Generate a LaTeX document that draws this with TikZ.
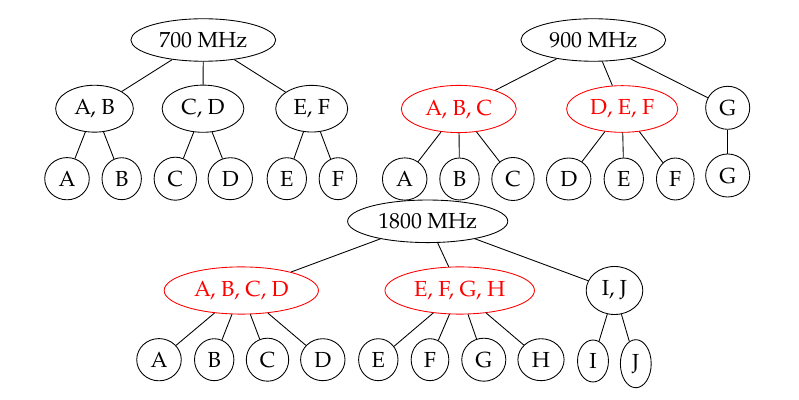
\documentclass[tikz,border=0pt]{standalone}
\usepackage{fontspec}
\setmainfont{texgyrepagella-regular.otf}[BoldFont=texgyrepagella-bold.otf,ItalicFont=texgyrepagella-italic.otf]
\usepackage{tikz}
\usetikzlibrary{shapes.geometric}
\usetikzlibrary{positioning}
\begin{document}
\begin{tikzpicture}[x=0.4587pt,y=-0.4587pt,font=\fontsize{10}{12}\selectfont,
  band/.style={draw,shape=ellipse},
  merged/.style={draw,shape=ellipse,color=red}]
\useasboundingbox (0,0) rectangle (799,400);
% 700 MHz
\path (203.3,40) node(0_0) [band] {700 MHz};
\path (94.5,108.7) node(1_0) [band] {A, B};
\path (203,108.7) node(2_0) [band] {C, D};
\path (311.7,108.7) node(3_0) [band] {E, F};
\path (67,178.7) node(4_0) [band] {A};
\path (121.7,178.7) node(5_0) [band] {B};
\path (175.3,178.7) node(6_0) [band] {C};
\path (230.3,178.7) node(7_0) [band] {D};
\path (286.8,178.7) node(8_0) [band] {E};
\path (338,178.7) node(9_0) [band] {F};
\draw (0_0) -- (1_0);
\draw (0_0) -- (2_0);
\draw (0_0) -- (3_0);
\draw (1_0) -- (4_0);
\draw (1_0) -- (5_0);
\draw (2_0) -- (6_0);
\draw (2_0) -- (7_0);
\draw (3_0) -- (8_0);
\draw (3_0) -- (9_0);
% 900 MHz
\path (593.3,40) node(0_1) [band] {900 MHz};
\path (458.8,109) node(1_1) [merged] {A, B, C};
\path (622.2,109) node(2_1) [merged] {D, E, F};
\path (727.7,107.8) node(3_1) [band] {G};
\path (404.7,179) node(4_1) [band] {A};
\path (459.5,179) node(5_1) [band] {B};
\path (513,179) node(6_1) [band] {C};
\path (568.7,179) node(7_1) [band] {D};
\path (623.8,179) node(8_1) [band] {E};
\path (675.3,179) node(9_1) [band] {F};
\path (727.7,175.5) node(10_1) [band] {G};
\draw (0_1) -- (1_1);
\draw (0_1) -- (2_1);
\draw (0_1) -- (3_1);
\draw (1_1) -- (4_1);
\draw (1_1) -- (5_1);
\draw (1_1) -- (6_1);
\draw (2_1) -- (7_1);
\draw (2_1) -- (8_1);
\draw (2_1) -- (9_1);
\draw (3_1) -- (10_1);
% 1800 MHz
\path (427.7,221.3) node(0_2) [band] {1800 MHz};
\path (241.3,290.5) node(1_2) [merged] {A, B, C, D};
\path (459.7,290.5) node(2_2) [merged] {E, F, G, H};
\path (614.5,290.5) node(3_2) [band] {I, J};
\path (159,359.7) node(4_2) [band] {A};
\path (214.2,359.7) node(5_2) [band] {B};
\path (267.5,359.7) node(6_2) [band] {C};
\path (322.8,359.7) node(7_2) [band] {D};
\path (378.3,359.7) node(8_2) [band] {E};
\path (430,359.7) node(9_2) [band] {F};
\path (483.8,359.7) node(10_2) [band] {G};
\path (541,359.7) node(11_2) [band] {H};
\path (593,361) node(12_2) [band] {I};
\path (635.8,363.7) node(13_2) [band] {J};
\draw (0_2) -- (1_2);
\draw (0_2) -- (2_2);
\draw (0_2) -- (3_2);
\draw (1_2) -- (4_2);
\draw (1_2) -- (5_2);
\draw (1_2) -- (6_2);
\draw (1_2) -- (7_2);
\draw (2_2) -- (8_2);
\draw (2_2) -- (9_2);
\draw (2_2) -- (10_2);
\draw (2_2) -- (11_2);
\draw (3_2) -- (12_2);
\draw (3_2) -- (13_2);
\end{tikzpicture}
\end{document}
